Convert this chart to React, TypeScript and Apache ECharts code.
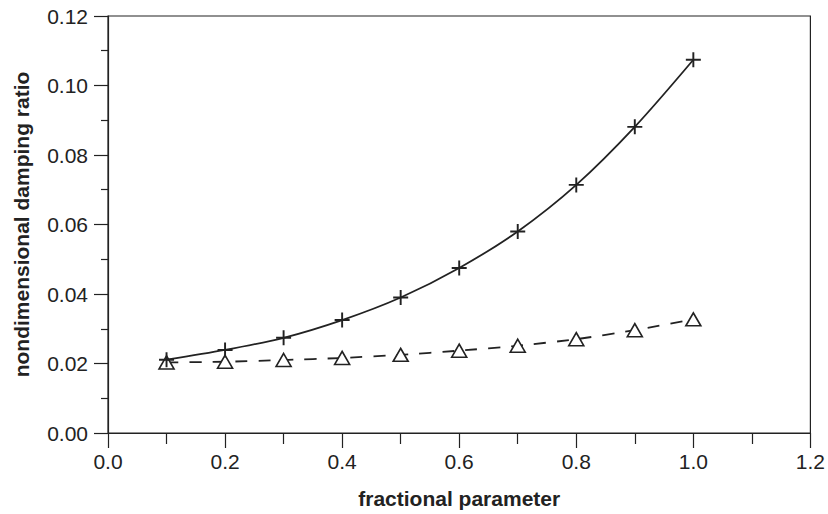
import React, { useEffect, useRef } from "react";
import * as echarts from "echarts";

const xValues = [0.1, 0.2, 0.3, 0.4, 0.5, 0.6, 0.7, 0.8, 0.9, 1.0];
const crossSeries = [0.0211, 0.0239, 0.0274, 0.0325, 0.039, 0.0475, 0.058, 0.0714, 0.0881, 0.1074];
const triangleSeries = [0.0203, 0.0205, 0.021, 0.0216, 0.0225, 0.0237, 0.0251, 0.027, 0.0296, 0.0327];
const xTitle = "fractional parameter";
const yTitle = "nondimensional damping ratio";

const INK = "#222";
const FONT = "'Liberation Sans', Arial, Helvetica, sans-serif";
const PLUS = "path://M-0.9,-7 L0.9,-7 L0.9,-0.9 L7,-0.9 L7,0.9 L0.9,0.9 L0.9,7 L-0.9,7 L-0.9,0.9 L-7,0.9 L-7,-0.9 L-0.9,-0.9 Z";

export default function App() {
  const ref = useRef<HTMLDivElement>(null);
  useEffect(() => {
    document.body.style.margin = "0";
    const chart = echarts.init(ref.current!, null, { renderer: "svg" });
    chart.setOption({
      animation: false,
      backgroundColor: "#fff",
      grid: {
        left: 108,
        top: 16,
        right: 16,
        bottom: 77,
        show: true,
        borderColor: INK,
        borderWidth: 1.2,
        backgroundColor: "transparent",
      },
      xAxis: {
        type: "value",
        min: 0,
        max: 1.2,
        interval: 0.2,
        name: xTitle,
        nameLocation: "middle",
        nameGap: 55,
        nameTextStyle: { fontFamily: FONT, fontWeight: "bold", fontSize: 21, color: INK },
        axisLine: { show: true, onZero: false, lineStyle: { color: INK, width: 1.2 } },
        axisTick: { show: true, inside: false, length: 15, lineStyle: { color: INK, width: 1.2 } },
        minorTick: { show: true, splitNumber: 2, length: 11, lineStyle: { color: INK, width: 1.2 } },
        axisLabel: {
          margin: 18,
          fontFamily: FONT,
          fontSize: 21,
          color: INK,
          formatter: (v: number) => v.toFixed(1),
        },
        splitLine: { show: false },
      },
      yAxis: {
        type: "value",
        min: 0,
        max: 0.12,
        interval: 0.02,
        name: yTitle,
        nameLocation: "middle",
        nameGap: 76,
        nameRotate: 90,
        nameTextStyle: { fontFamily: FONT, fontWeight: "bold", fontSize: 21, color: INK },
        axisLine: { show: true, onZero: false, lineStyle: { color: INK, width: 1.2 } },
        axisTick: { show: true, inside: false, length: 14, lineStyle: { color: INK, width: 1.2 } },
        minorTick: { show: true, splitNumber: 2, length: 7, lineStyle: { color: INK, width: 1.2 } },
        axisLabel: {
          margin: 20,
          fontFamily: FONT,
          fontSize: 21,
          color: INK,
          formatter: (v: number) => v.toFixed(2),
        },
        splitLine: { show: false },
      },
      series: [
        {
          type: "line",
          data: xValues.map((x, i) => [x, triangleSeries[i]]),
          smooth: 0.2,
          symbol: "triangle",
          symbolSize: [15, 13],
          lineStyle: { color: INK, width: 1.8, type: [12, 11] },
          itemStyle: { color: "#fff", borderColor: INK, borderWidth: 1.6 },
          z: 2,
        },
        {
          type: "line",
          data: xValues.map((x, i) => [x, crossSeries[i]]),
          smooth: 0.3,
          symbol: PLUS,
          symbolSize: 15,
          lineStyle: { color: INK, width: 1.8 },
          itemStyle: { color: INK, borderWidth: 0 },
          z: 3,
        },
      ],
    });
    return () => chart.dispose();
  }, []);
  return <div ref={ref} style={{ width: 828, height: 514 }} />;
}
